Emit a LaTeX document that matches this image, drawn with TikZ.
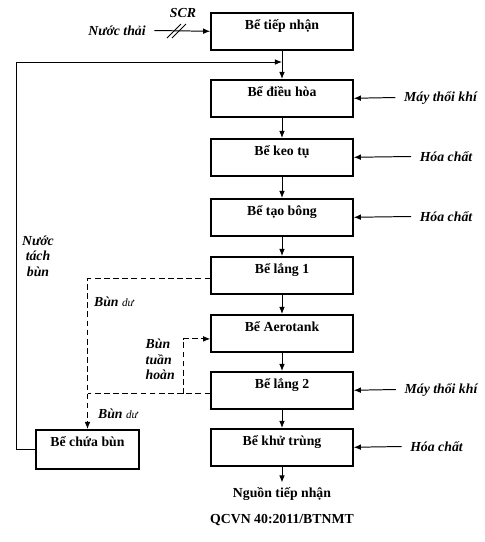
\documentclass[tikz,border=0pt]{standalone}
\usepackage{fontspec}
\setmainfont{Liberation Serif}
\usetikzlibrary{arrows.meta}

\begin{document}
\begin{tikzpicture}[x=0.025cm, y=-0.025cm, >={Latex[length=5pt,width=4pt]},
tankbox/.style={rectangle, draw=black, line width=1.1pt, anchor=north, minimum width=3.55cm, inner ysep=0pt, text height=12pt, text depth=14.3pt, font=\fontsize{9.8}{11}\selectfont\bfseries},
inputlabel/.style={font=\fontsize{9.8}{11}\selectfont\bfseries\itshape, inner sep=6pt},
plaintext/.style={font=\fontsize{9.8}{11}\selectfont\bfseries},
flowline/.style={line width=0.7pt, ->},
sludgeline/.style={line width=0.6pt, dash pattern=on 4pt off 2.5pt}]
\useasboundingbox (0, 0) rectangle (485, 542);

\node[tankbox](reception) at (282, 12){Bể tiếp nhận};
\node[tankbox](equalization) at (282, 79){Bể điều hòa};
\node[tankbox](coagulation) at (282, 138){Bể keo tụ};
\node[tankbox](flocculation) at (282, 198){Bể tạo bông};
\node[tankbox](settling1) at (282, 256){Bể lắng 1};
\node[tankbox](aerotank) at (282, 314){Bể Aerotank};
\node[tankbox](settling2) at (282, 371){Bể lắng 2};
\node[tankbox](disinfection) at (282, 428){Bể khử trùng};
\node[tankbox, minimum width=2.575cm, text depth=15.7pt](sludgetank) at (87.5, 429){Bể chứa bùn};

\node[inputlabel](wastewater) at (117, 30.5){Nước thải};
\node[inputlabel, inner sep=1pt](scr) at (183, 13){SCR};
\node[inputlabel](blower1) at (440.5, 97.5){Máy thổi khí};
\node[inputlabel](chemical1) at (446, 156.5){Hóa chất};
\node[inputlabel](chemical2) at (446, 216.5){Hóa chất};
\node[inputlabel](blower2) at (441, 389.5){Máy thổi khí};
\node[inputlabel](chemical3) at (436.5, 446.5){Hóa chất};

\draw[flowline](wastewater.east) -- (reception.west);
\draw[line width=0.6pt](167, 38) -- (181, 24);
\draw[line width=0.6pt](172, 38) -- (186, 24);

\coordinate(merge) at (282, 62);
\draw[line width=0.7pt](reception.south) -- (merge);
\draw[flowline](merge) -- (equalization.north);
\draw[flowline](equalization.south) -- (coagulation.north);
\draw[flowline](coagulation.south) -- (flocculation.north);
\draw[flowline](flocculation.south) -- (settling1.north);
\draw[flowline](settling1.south) -- (aerotank.north);
\draw[flowline](aerotank.south) -- (settling2.north);
\draw[flowline](settling2.south) -- (disinfection.north);

\draw[flowline](blower1.west) -- (equalization.east);
\draw[flowline](chemical1.west) -- (coagulation.east);
\draw[flowline](chemical2.west) -- (flocculation.east);
\draw[flowline](blower2.west) -- (settling2.east);
\draw[flowline](chemical3.west) -- (disinfection.east);

% nuoc tach bun quay ve
\draw[flowline](sludgetank.west) -- ++(-19, 0) |- (merge);
\node[inputlabel, inner sep=1pt, align=center](separated) at (38, 256){Nước\\tách\\bùn};

% bun du, bun tuan hoan
\draw[sludgeline, ->]([yshift=-2.5pt]settling1.west) -| (sludgetank.north);
\path([yshift=-2.5pt]settling2.west) ++(-27, 0) coordinate(recycle);
\draw[sludgeline]([yshift=-2.5pt]settling2.west) -- (recycle) -- (recycle -| sludgetank.north);
\draw[sludgeline, ->](recycle) |- ([yshift=-4pt]aerotank.west);

\node[inputlabel, inner sep=1pt](excess1) at (114, 302){Bùn {\normalfont\itshape\fontsize{8}{9}\selectfont dư}};
\node[inputlabel, inner sep=1pt](excess2) at (118, 414){Bùn {\normalfont\itshape\fontsize{8}{9}\selectfont dư}};
\node[inputlabel, inner sep=1pt, align=left, anchor=west](returnsludge) at (144, 359.5){Bùn\\tuần\\hoàn};

\node[plaintext](receiver) at (282, 494){Nguồn tiếp nhận};
\node[plaintext](standard) at (282, 520){QCVN 40:2011/BTNMT};
\draw[flowline](disinfection.south) -- (receiver.north);

\end{tikzpicture}
\end{document}
